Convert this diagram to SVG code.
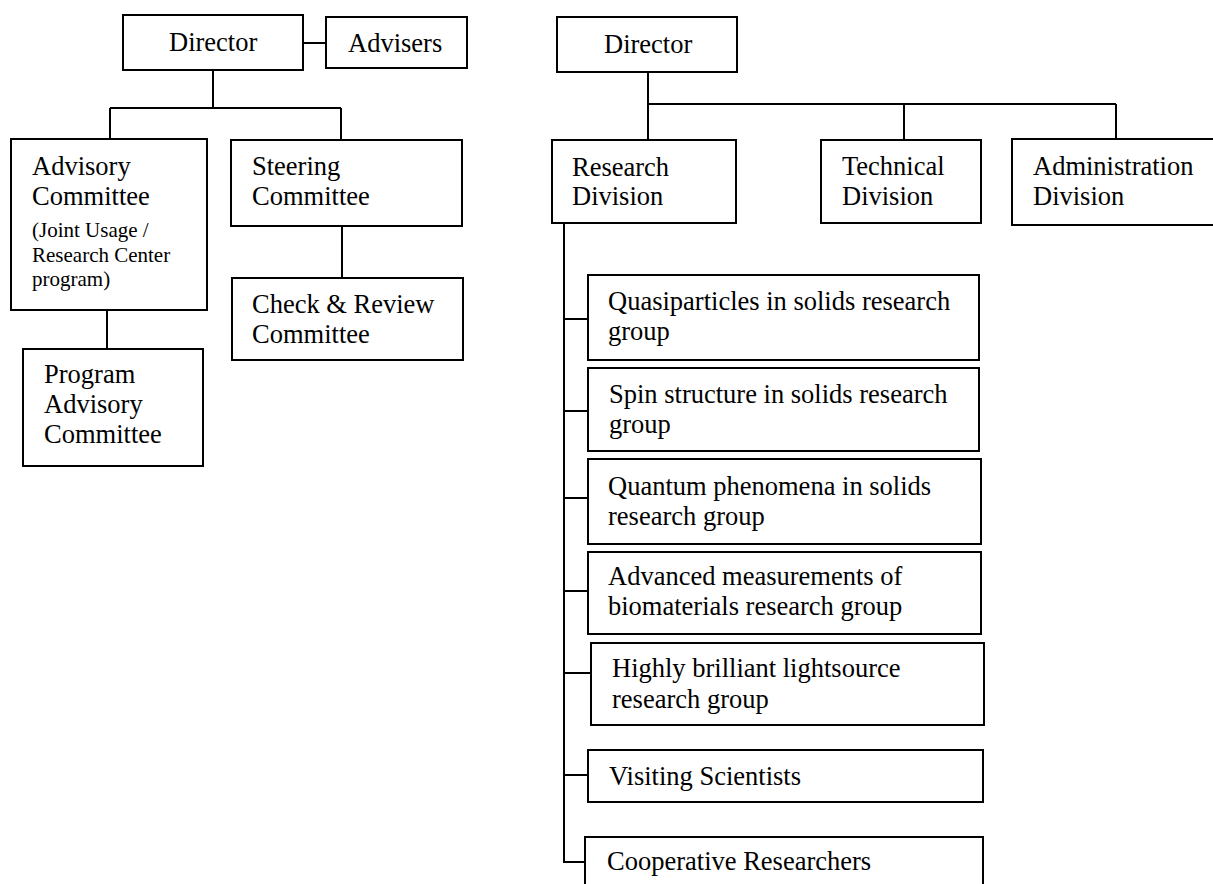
<svg xmlns="http://www.w3.org/2000/svg" width="1213" height="884" viewBox="0 0 1213 884">
<style>
.box{fill:#fff;stroke:#000;stroke-width:2}
.ln{fill:none;stroke:#000;stroke-width:2}
text{font-family:"Liberation Serif","Times New Roman",serif;font-size:26.5px;fill:#000}
.sm{font-size:21px}
</style>
<rect width="1213" height="884" fill="#fff"/>
<g id="connectors">
<path class="ln" d="M303,43 H326"/>
<path class="ln" d="M213,70 V108 M110,108 H341 M110,108 V139 M341,108 V140"/>
<path class="ln" d="M342,226 V278"/>
<path class="ln" d="M107,310 V349"/>
<path class="ln" d="M648,72 V140 M648,104 H1116 M904,104 V140 M1116,104 V139"/>
<path class="ln" d="M564,223 V862 H585"/>
<path class="ln" d="M564,319 H588 M564,411 H588 M564,498 H588 M564,591 H588 M564,673 H591 M564,775 H588"/>
</g>
<g id="director-left"><rect class="box" x="123" y="15" width="180" height="55"/><text x="169" y="51">Director</text></g>
<g id="advisers"><rect class="box" x="326" y="17" width="141" height="51"/><text x="348" y="52">Advisers</text></g>
<g id="advisory-committee"><rect class="box" x="11" y="139" width="196" height="171"/>
<text x="32" y="175">Advisory</text><text x="32" y="205">Committee</text>
<text class="sm" x="32" y="237">(Joint Usage /</text><text class="sm" x="32" y="262">Research Center</text><text class="sm" x="32" y="286">program)</text></g>
<g id="steering-committee"><rect class="box" x="231" y="140" width="231" height="86"/><text x="252" y="175">Steering</text><text x="252" y="205">Committee</text></g>
<g id="check-review"><rect class="box" x="232" y="278" width="231" height="82"/><text x="252" y="313">Check &amp; Review</text><text x="252" y="343">Committee</text></g>
<g id="program-advisory"><rect class="box" x="23" y="349" width="180" height="117"/><text x="44" y="383">Program</text><text x="44" y="413">Advisory</text><text x="44" y="443">Committee</text></g>
<g id="director-right"><rect class="box" x="557" y="17" width="180" height="55"/><text x="604" y="53">Director</text></g>
<g id="research-division"><rect class="box" x="552" y="140" width="184" height="83"/><text x="572" y="176">Research</text><text x="572" y="205">Division</text></g>
<g id="technical-division"><rect class="box" x="821" y="140" width="160" height="83"/><text x="842" y="175">Technical</text><text x="842" y="205">Division</text></g>
<g id="administration-division"><rect class="box" x="1012" y="139" width="210" height="86"/><text x="1033" y="175">Administration</text><text x="1033" y="205">Division</text></g>
<g id="quasiparticles"><rect class="box" x="588" y="275" width="391" height="85"/><text x="608" y="310">Quasiparticles in solids research</text><text x="608" y="340">group</text></g>
<g id="spin-structure"><rect class="box" x="588" y="368" width="391" height="83"/><text x="609" y="403">Spin structure in solids research</text><text x="609" y="433">group</text></g>
<g id="quantum-phenomena"><rect class="box" x="588" y="459" width="393" height="85"/><text x="608" y="495">Quantum phenomena in solids</text><text x="608" y="525">research group</text></g>
<g id="biomaterials"><rect class="box" x="588" y="552" width="393" height="82"/><text x="608" y="585">Advanced measurements of</text><text x="608" y="615">biomaterials research group</text></g>
<g id="lightsource"><rect class="box" x="591" y="643" width="393" height="82"/><text x="612" y="677">Highly brilliant lightsource</text><text x="612" y="708">research group</text></g>
<g id="visiting-scientists"><rect class="box" x="588" y="750" width="395" height="52"/><text x="609" y="785">Visiting Scientists</text></g>
<g id="cooperative-researchers"><rect class="box" x="585" y="837" width="398" height="60"/><text x="607" y="870">Cooperative Researchers</text></g>
</svg>
